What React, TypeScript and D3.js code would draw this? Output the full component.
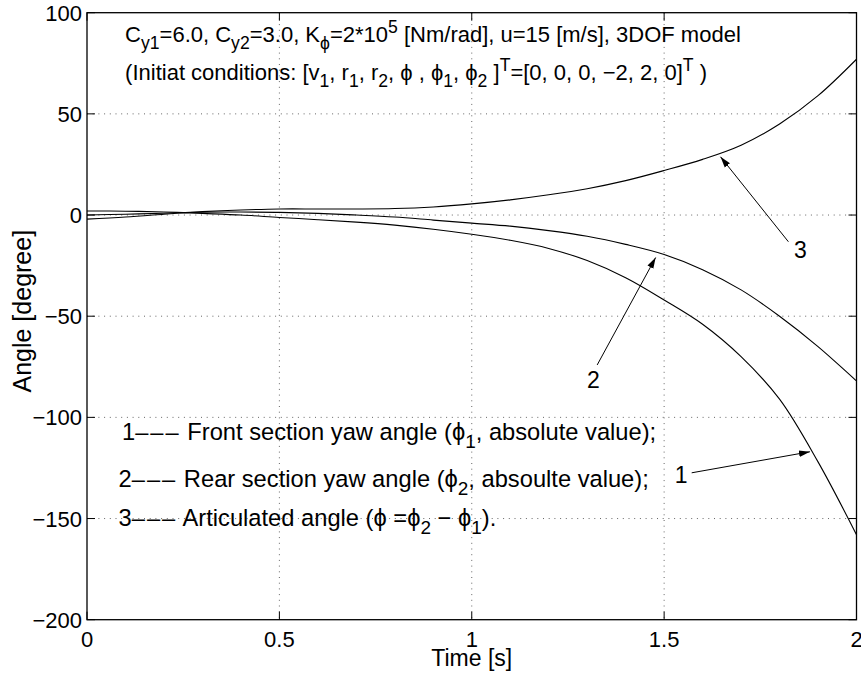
import React from "react";
import * as d3 from "d3";

const timeS = [0, 0.1, 0.2, 0.25, 0.3, 0.4, 0.5, 0.6, 0.7, 0.8, 0.9, 1.0, 1.1, 1.2, 1.3, 1.4, 1.5, 1.6, 1.7, 1.8, 1.9, 2.0];
const frontYaw = [2, 1.9, 1.5, 1.2, 0.8, 0, -1.2, -2.3, -3.5, -5, -7, -9.5, -12.5, -16.5, -22.5, -31, -42, -54, -70, -91, -122, -158];
const rearYaw = [0, 0.4, 0.9, 1.2, 1.4, 1.5, 1.3, 0.8, 0, -1, -2.5, -4, -5.5, -7.7, -10.5, -14.5, -19.5, -27, -37, -50, -65, -82];
const articulated = [-2, -1, 0.4, 1.1, 1.7, 2.5, 3, 3, 3, 3.2, 4, 5.5, 7.5, 10, 13, 17, 22, 27.5, 34.5, 45, 59, 77];

const xTicks = [0, 0.5, 1, 1.5, 2];
const xTickLabels = ["0", "0.5", "1", "1.5", "2"];
const yTicks = [100, 50, 0, -50, -100, -150, -200];
const yTickLabels = ["100", "50", "0", "\u221250", "\u2212100", "\u2212150", "\u2212200"];

type Seg = { t: string; sub?: boolean; sup?: boolean; dash?: boolean };

const PHI = "\u03d5";
const DASHES = "\u2013\u2013\u2013";

const noteLine1: Seg[] = [
  { t: "C" }, { t: "y1", sub: true }, { t: "=6.0, C" }, { t: "y2", sub: true },
  { t: "=3.0, K" }, { t: PHI, sub: true }, { t: "=2*10" }, { t: "5", sup: true },
  { t: " [Nm/rad], u=15 [m/s], 3DOF model" },
];
const noteLine2: Seg[] = [
  { t: "(Initiat conditions: [v" }, { t: "1", sub: true }, { t: ", r" }, { t: "1", sub: true },
  { t: ", r" }, { t: "2", sub: true }, { t: `, ${PHI} , ${PHI}` }, { t: "1", sub: true },
  { t: `, ${PHI}` }, { t: "2", sub: true }, { t: " ]" }, { t: "T", sup: true },
  { t: "=[0, 0, 0, \u22122, 2, 0]" }, { t: "T", sup: true }, { t: " )" },
];
const legend1: Seg[] = [{ t: "1" }, { t: DASHES, dash: true }, { t: ` Front section yaw angle (${PHI}` }, { t: "1", sub: true }, { t: ", absolute value);" }];
const legend2: Seg[] = [{ t: "2" }, { t: DASHES, dash: true }, { t: ` Rear section yaw angle (${PHI}` }, { t: "2", sub: true }, { t: ", absoulte value);" }];
const legend3: Seg[] = [
  { t: "3" }, { t: DASHES, dash: true }, { t: ` Articulated angle (${PHI} =${PHI}` }, { t: "2", sub: true }, { t: ` \u2212 ${PHI}` }, { t: "1", sub: true }, { t: ")." },
];

// text blocks in data coordinates [t, angle], font size
const textBlocks: { segs: Seg[]; at: [number, number]; size: number }[] = [
  { segs: noteLine1, at: [0.099, 85.5], size: 22 },
  { segs: noteLine2, at: [0.099, 66.7], size: 22 },
  { segs: legend1, at: [0.091, -111.2], size: 23.7 },
  { segs: legend2, at: [0.082, -134.5], size: 23.7 },
  { segs: legend3, at: [0.082, -153.8], size: 23.7 },
];

// arrows: label, label position, start, tip (data coords)
const arrowLabels = ["1", "2", "3"];
const arrowLabelAt: [number, number][] = [[1.544, -132.5], [1.316, -85.5], [1.854, -21.4]];
const arrowFrom: [number, number][] = [[1.5716, -127.4], [1.326, -74.1], [1.823, -13.2]];
const arrowTo: [number, number][] = [[1.879, -117.0], [1.478, -21.0], [1.6465, 28.8]];

const W = 861, H = 677;
const M = { left: 87, top: 12.7, right: 4.5, bottom: 57.3 };
const FONT = "'Liberation Sans', Arial, Helvetica, 'DejaVu Sans', sans-serif";
const FS = 22;

function Rich({ segs, x, y, size }: { segs: Seg[]; x: number; y: number; size: number }) {
  const subShift = 0.33 * size;
  const supShift = 0.42 * size;
  let cur = 0;
  const out: React.ReactNode[] = [];
  segs.forEach((s, i) => {
    const target = s.sub ? subShift : s.sup ? -supShift : 0;
    const dy = target - cur;
    cur = target;
    out.push(
      <tspan key={i} dy={dy} fontSize={s.sub || s.sup ? size * 0.8 : size} letterSpacing={s.dash ? 2 : undefined}>
        {s.t}
      </tspan>
    );
  });
  return (
    <text x={x} y={y} fontFamily={FONT} fontSize={size} fill="#000">
      {out}
    </text>
  );
}

export default function App() {
  const x = d3.scaleLinear().domain([0, 2]).range([M.left, W - M.right]);
  const y = d3.scaleLinear().domain([-200, 100]).range([H - M.bottom, M.top]);
  const line = d3
    .line<number>()
    .x((_, i) => x(timeS[i]))
    .y((d) => y(d))
    .curve(d3.curveCatmullRom.alpha(0.5));
  const series = [frontYaw, rearYaw, articulated];
  const x0 = x(0), x1 = x(2), y0 = y(-200), y1 = y(100);
  const tick = 8;

  return (
    <svg width={W} height={H} style={{ position: "absolute", left: 0, top: 0, background: "#fff" }}>
      <defs>
        <clipPath id="plot">
          <rect x={x0} y={y1} width={x1 - x0} height={y0 - y1} />
        </clipPath>
        <marker id="ah" viewBox="0 0 10 10" refX="10" refY="5" markerWidth="11" markerHeight="11" markerUnits="userSpaceOnUse" orient="auto">
          <path d="M0,2 L10,5 L0,8 Z" fill="#000" />
        </marker>
      </defs>
      <rect x={0} y={0} width={W} height={H} fill="#fff" />
      {/* grid */}
      {xTicks.slice(1, -1).map((t) => (
        <line key={"gx" + t} x1={x(t)} x2={x(t)} y1={y1} y2={y0} stroke="#666" strokeWidth={1} strokeDasharray="1 4.7" />
      ))}
      {yTicks.slice(1, -1).map((v) => (
        <line key={"gy" + v} x1={x0} x2={x1} y1={y(v)} y2={y(v)} stroke="#666" strokeWidth={1} strokeDasharray="1 4.7" />
      ))}
      {/* curves */}
      <g clipPath="url(#plot)">
        {series.map((s, i) => (
          <path key={i} d={line(s) || ""} fill="none" stroke="#000" strokeWidth={1.1} />
        ))}
      </g>
      {/* frame & ticks */}
      <rect x={x0} y={y1} width={x1 - x0} height={y0 - y1} fill="none" stroke="#000" strokeWidth={1.3} />
      {xTicks.map((t) => (
        <g key={"tx" + t}>
          <line x1={x(t)} x2={x(t)} y1={y0} y2={y0 - tick} stroke="#000" />
          <line x1={x(t)} x2={x(t)} y1={y1} y2={y1 + tick} stroke="#000" />
        </g>
      ))}
      {yTicks.map((v) => (
        <g key={"ty" + v}>
          <line x1={x0} x2={x0 + tick} y1={y(v)} y2={y(v)} stroke="#000" />
          <line x1={x1} x2={x1 - tick} y1={y(v)} y2={y(v)} stroke="#000" />
        </g>
      ))}
      {xTicks.map((t, i) => (
        <text key={"lx" + t} x={x(t)} y={y0 + 27} textAnchor="middle" fontFamily={FONT} fontSize={FS}>
          {xTickLabels[i]}
        </text>
      ))}
      {yTicks.map((v, i) => (
        <text key={"ly" + v} x={x0 - 5} y={y(v) + 8} textAnchor="end" fontFamily={FONT} fontSize={FS}>
          {yTickLabels[i]}
        </text>
      ))}
      <text x={(x0 + x1) / 2} y={H - 11} textAnchor="middle" fontFamily={FONT} fontSize={23}>
        Time [s]
      </text>
      <text transform={`translate(31, ${(y0 + y1) / 2 - 5}) rotate(-90)`} textAnchor="middle" fontFamily={FONT} fontSize={25}>
        Angle [degree]
      </text>
      {/* text blocks */}
      {textBlocks.map((b, i) => (
        <Rich key={"tb" + i} segs={b.segs} x={x(b.at[0])} y={y(b.at[1])} size={b.size} />
      ))}
      {/* arrows */}
      {arrowLabels.map((lab, i) => (
        <g key={"ar" + i}>
          <line
            x1={x(arrowFrom[i][0])}
            y1={y(arrowFrom[i][1])}
            x2={x(arrowTo[i][0])}
            y2={y(arrowTo[i][1])}
            stroke="#000"
            strokeWidth={1}
            markerEnd="url(#ah)"
          />
          <text x={x(arrowLabelAt[i][0])} y={y(arrowLabelAt[i][1])} textAnchor="middle" fontFamily={FONT} fontSize={23}>
            {lab}
          </text>
        </g>
      ))}
    </svg>
  );
}
